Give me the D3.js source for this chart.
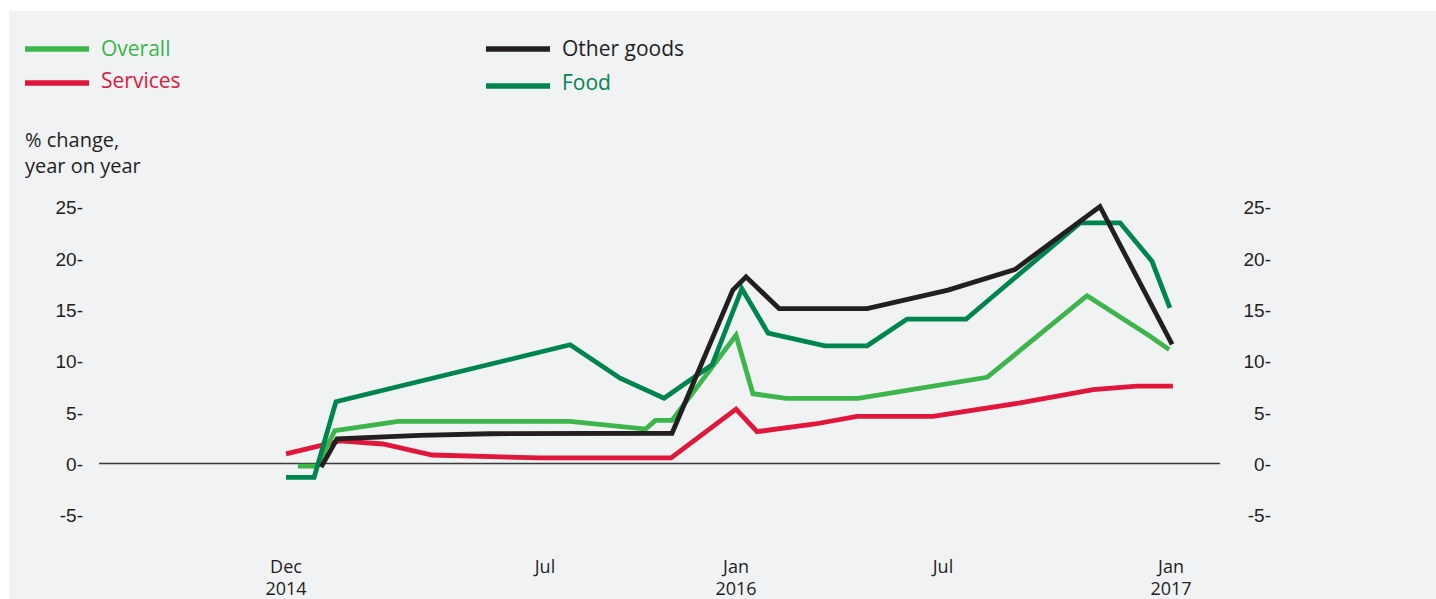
<!DOCTYPE html>
<html>
<head>
<meta charset="utf-8">
<script src="https://cdn.jsdelivr.net/npm/d3@7"></script>
<style>
  html, body { margin: 0; padding: 0; background: #fff; }
  svg { display: block; font-family: "Open Sans", "Noto Sans", sans-serif; }
</style>
</head>
<body>
<div id="chart"></div>
<script>
// x values are months counted from Dec 2014 (0) to Jan 2017 (25)
const services = [[0, 0.93], [1.46, 2.2], [2.62, 1.9], [3.95, 0.83], [6.86, 0.54], [10.96, 0.54],
  [13, 5.3], [13.61, 3.1], [15.29, 3.85], [16.51, 4.6], [18.71, 4.6], [21.03, 5.9],
  [22.95, 7.2], [24.1, 7.55], [25.05, 7.55]];
const overall = [[0.32, -0.25], [0.84, -0.25], [1.32, 3.2], [3.03, 4.1], [7.79, 4.1],
  [10.16, 3.35], [10.47, 4.2], [10.99, 4.2], [13, 12.5], [13.49, 6.8], [14.45, 6.35],
  [16.54, 6.35], [20.16, 8.4], [22.79, 16.35], [24.45, 12.4], [24.95, 11.1]];
const food = [[0, -1.35], [0.76, -1.35], [1.35, 6.03], [7.79, 11.57], [9.36, 8.32],
  [10.74, 6.37], [12.25, 9.62], [13.17, 17.04], [13.93, 12.71], [15.58, 11.47],
  [16.8, 11.47], [17.96, 14.08], [19.61, 14.08], [20.24, 16.06], [22.61, 23.46],
  [23.66, 23.46], [24.5, 19.71], [24.97, 15.16]];
const otherGoods = [[0.95, -0.35], [1.38, 2.4], [3.62, 2.75], [5.5, 2.9], [10.99, 2.95],
  [12.9, 16.9], [13.29, 18.2], [14.25, 15.1], [16.8, 15.1], [19.13, 16.9],
  [20.89, 18.9], [23.13, 25.05], [25.03, 11.6]];

const yTicks = [-5, 0, 5, 10, 15, 20, 25];
const xTickMonths = [0, 7, 13, 19, 25];
const xTickLabels = [['Dec', '2014'], ['Jul'], ['Jan', '2016'], ['Jul'], ['Jan', '2017']];

const seriesNames = ['Services', 'Overall', 'Food', 'Other goods'];

const COLORS = {
  'Overall': '#3cb54a',
  'Services': '#e0173a',
  'Other goods': '#231f20',
  'Food': '#00854f'
};
const TEXT = '#231f20';

const width = 1436, height = 599;

const svg = d3.select('#chart').append('svg')
  .attr('width', width)
  .attr('height', height);

// panel background
svg.append('rect')
  .attr('x', 9).attr('y', 11)
  .attr('width', width - 9).attr('height', height - 11)
  .attr('fill', '#f1f2f4');

// the x axis is drawn in uneven steps in the original, so map through the labelled months
const x = d3.scaleLinear().domain(xTickMonths).range([286, 545, 736, 943, 1171]);
const y = d3.scaleLinear().domain([-5, 25]).range([514.8, 207]);

// y axes, both with labels right-aligned
const yAxis = d3.axisLeft(y).tickValues(yTicks).tickSize(0).tickPadding(0)
  .tickFormat(d => `${d}-`);

[83, 1271].forEach(px => {
  const g = svg.append('g').attr('transform', `translate(${px},0)`).call(yAxis);
  g.select('.domain').remove();
  g.selectAll('text')
    .attr('fill', TEXT)
    .attr('font-size', '19px')
    .attr('dy', '0.36em');
});

// zero line
svg.append('line')
  .attr('x1', 99).attr('x2', 1220)
  .attr('y1', y(0)).attr('y2', y(0))
  .attr('stroke', '#3a3a3a')
  .attr('stroke-width', 1.5);

// x tick labels
const xl = svg.append('g').selectAll('text')
  .data(xTickMonths)
  .join('text')
  .attr('x', d => x(d))
  .attr('y', 573)
  .attr('text-anchor', 'middle')
  .attr('font-size', '18px')
  .attr('fill', TEXT);

xl.each(function (d, i) {
  d3.select(this).selectAll('tspan')
    .data(xTickLabels[i])
    .join('tspan')
    .attr('x', x(d))
    .attr('dy', (t, j) => j === 0 ? 0 : 21.5)
    .text(t => t);
});

// lines
const line = d3.line().x(d => x(d[0])).y(d => y(d[1]));
const seriesData = { 'Services': services, 'Overall': overall, 'Food': food, 'Other goods': otherGoods };

seriesNames.forEach(name => {
  svg.append('path')
    .datum(seriesData[name])
    .attr('fill', 'none')
    .attr('stroke', COLORS[name])
    .attr('stroke-width', 4.8)
    .attr('stroke-linejoin', 'miter')
    .attr('stroke-linecap', 'butt')
    .attr('d', line);
});

// legend
const legend = [
  { name: 'Overall', x: 25, lineY: 49, textY: 56 },
  { name: 'Services', x: 25, lineY: 83, textY: 88 },
  { name: 'Other goods', x: 486, lineY: 49, textY: 56 },
  { name: 'Food', x: 486, lineY: 86, textY: 90 }
];

const lg = svg.append('g').selectAll('g').data(legend).join('g');
lg.append('line')
  .attr('x1', d => d.x).attr('x2', d => d.x + 64)
  .attr('y1', d => d.lineY).attr('y2', d => d.lineY)
  .attr('stroke', d => COLORS[d.name])
  .attr('stroke-width', 5.5);
lg.append('text')
  .attr('x', d => d.x + 76)
  .attr('y', d => d.textY)
  .attr('font-size', '21px')
  .attr('fill', d => COLORS[d.name])
  .text(d => d.name);

// axis title
svg.append('text')
  .attr('x', 25).attr('y', 147)
  .attr('font-size', '20px')
  .attr('fill', TEXT)
  .selectAll('tspan')
  .data(['% change,', 'year on year'])
  .join('tspan')
  .attr('x', 25)
  .attr('dy', (d, i) => i === 0 ? 0 : 25.5)
  .text(d => d);
</script>
</body>
</html>
